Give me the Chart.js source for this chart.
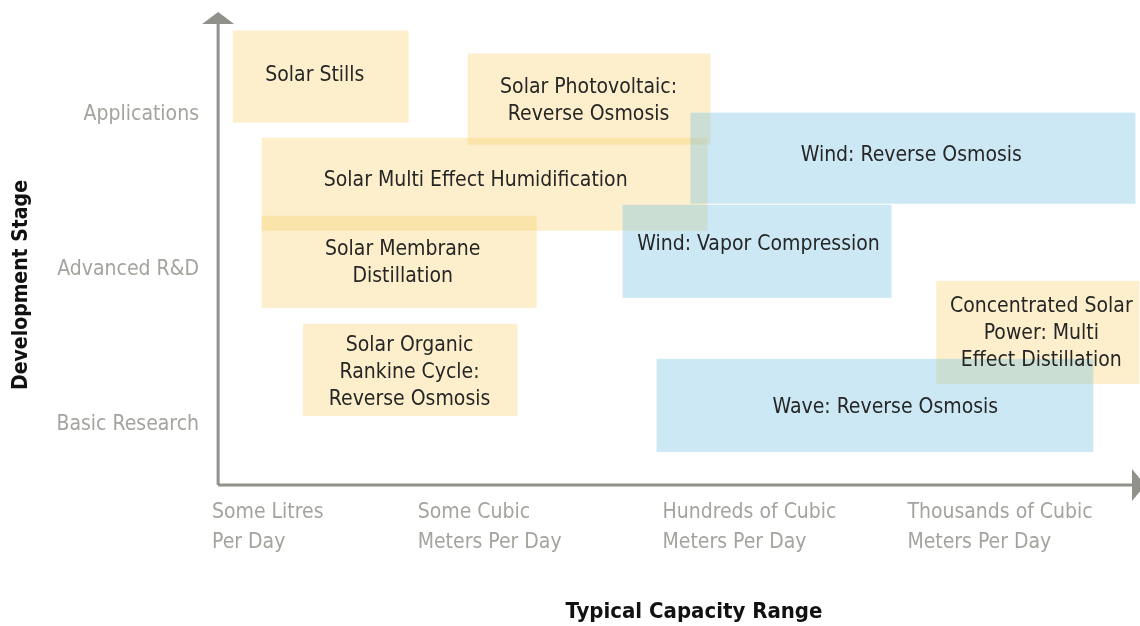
<!DOCTYPE html>
<html>
<head>
<meta charset="utf-8">
<script src="https://cdn.jsdelivr.net/npm/chart.js@4"></script>
<style>
  html, body { margin: 0; padding: 0; background: #fff; }
  #wrap { width: 1140px; height: 626px; }
</style>
</head>
<body>
<div id="wrap"><canvas id="techChart"></canvas></div>
<script>
// axis categories
const stageLabels = ['Basic Research', 'Advanced R&D', 'Applications'];
const stageValues = [1, 2, 3];
const capacityLabels = [
  ['Some Litres', 'Per Day'],
  ['Some Cubic', 'Meters Per Day'],
  ['Hundreds of Cubic', 'Meters Per Day'],
  ['Thousands of Cubic', 'Meters Per Day']
];
const capacityValues = [0.16, 1, 2, 3];
const xTitle = 'Typical Capacity Range';
const yTitle = 'Development Stage';

// technologies (capacity and stage ranges)
const techNames = [
  ['Solar Stills'],
  ['Solar Photovoltaic:', 'Reverse Osmosis'],
  ['Solar Multi Effect Humidification'],
  ['Solar Membrane', 'Distillation'],
  ['Concentrated Solar', 'Power: Multi', 'Effect Distillation'],
  ['Solar Organic', 'Rankine Cycle:', 'Reverse Osmosis'],
  ['Wind: Reverse Osmosis'],
  ['Wind: Vapor Compression'],
  ['Wave: Reverse Osmosis']
];
const techSource = ['solar', 'solar', 'solar', 'solar', 'solar', 'solar', 'wind', 'wind', 'wave'];
const capFrom = [0.245, 1.204, 0.363, 0.363, 3.118, 0.531, 2.114, 1.837, 1.976];
const capTo   = [0.963, 2.196, 2.184, 1.486, 3.947, 1.408, 3.931, 2.935, 3.759];
const stageFrom = [2.948, 2.806, 2.252, 1.755, 1.265, 1.058, 2.426, 1.819, 0.826];
const stageTo   = [3.542, 3.394, 2.852, 2.348, 1.929, 1.652, 3.013, 2.419, 1.426];
// where each name sits inside its box
const labelCap   = [0.580, 1.698, 1.237, 0.939, 3.547, 0.967, 3.016, 2.392, 2.910];
const labelStage = [3.252, 3.087, 2.574, 2.045, 1.587, 1.335, 2.735, 2.161, 1.110];

const FONT = '"Liberation Sans Narrow", "DejaVu Sans Condensed", Roboto, sans-serif';
const axisColor = '#8f918a';
const fills = {
  solar: 'rgba(250, 210, 110, 0.35)',
  wind: 'rgba(120, 195, 225, 0.38)',
  wave: 'rgba(120, 195, 225, 0.38)'
};

const boxPlugin = {
  id: 'techBoxes',
  beforeDatasetsDraw(chart) {
    const ctx = chart.ctx;
    const x = chart.scales.x;
    const y = chart.scales.y;
    ctx.save();
    techNames.forEach((name, i) => {
      const left = x.getPixelForValue(capFrom[i]);
      const right = x.getPixelForValue(capTo[i]);
      const top = y.getPixelForValue(stageTo[i]);
      const bottom = y.getPixelForValue(stageFrom[i]);
      ctx.fillStyle = fills[techSource[i]];
      ctx.fillRect(left, top, right - left, bottom - top);
    });
    ctx.fillStyle = '#262626';
    ctx.font = '21px ' + FONT;
    ctx.textAlign = 'center';
    ctx.textBaseline = 'middle';
    const lh = 27;
    techNames.forEach((name, i) => {
      const cx = x.getPixelForValue(labelCap[i]);
      const cy = y.getPixelForValue(labelStage[i]);
      name.forEach((line, j) => {
        ctx.fillText(line, cx, cy + (j - (name.length - 1) / 2) * lh);
      });
    });
    ctx.restore();
  },
  afterDraw(chart) {
    const ctx = chart.ctx;
    const area = chart.chartArea;
    const ax = chart.scales.x.getPixelForValue(0.185);
    const ay = area.bottom;
    ctx.save();
    ctx.strokeStyle = axisColor;
    ctx.fillStyle = axisColor;
    ctx.lineWidth = 3;
    ctx.beginPath();
    ctx.moveTo(ax, ay);
    ctx.lineTo(ax, 24);
    ctx.moveTo(ax, ay);
    ctx.lineTo(1132, ay);
    ctx.stroke();
    // arrow heads
    ctx.beginPath();
    ctx.moveTo(ax - 16, 24);
    ctx.lineTo(ax + 16, 24);
    ctx.lineTo(ax, 12);
    ctx.closePath();
    ctx.fill();
    ctx.beginPath();
    ctx.moveTo(1132, ay - 16);
    ctx.lineTo(1132, ay + 16);
    ctx.lineTo(1145, ay);
    ctx.closePath();
    ctx.fill();

    // axis titles
    ctx.fillStyle = '#111';
    ctx.textAlign = 'center';
    ctx.textBaseline = 'middle';
    ctx.font = 'bold 22px ' + FONT;
    ctx.fillText(xTitle, 694, 612);
    ctx.translate(22, 285);
    ctx.rotate(-Math.PI / 2);
    ctx.font = 'bold 21px ' + FONT;
    ctx.fillText(yTitle, 0, 0);
    ctx.restore();
  }
};

const ctx = document.getElementById('techChart');

new Chart(ctx, {
  type: 'scatter',
  data: { datasets: [{ data: [] }] },
  options: {
    responsive: true,
    maintainAspectRatio: false,
    animation: false,
    layout: { padding: { top: 1, right: 0, left: 0, bottom: 0 } },
    plugins: { legend: { display: false }, tooltip: { enabled: false } },
    scales: {
      x: {
        type: 'linear',
        min: 0.16,
        max: 3.95,
        grid: { display: false, drawTicks: false },
        border: { display: false },
        afterBuildTicks: (scale) => { scale.ticks = capacityValues.map(v => ({ value: v })); },
        afterFit: (scale) => { scale.height = 141; },
        ticks: {
          align: 'start',
          maxRotation: 0,
          autoSkip: false,
          padding: 13,
          color: '#a3a49d',
          font: { family: FONT, size: 21, lineHeight: 1.43 },
          callback: (value, index) => capacityLabels[index]
        }
      },
      y: {
        type: 'linear',
        min: 0.613,
        max: 3.574,
        grid: { display: false, drawTicks: false },
        border: { display: false },
        afterBuildTicks: (scale) => { scale.ticks = stageValues.map(v => ({ value: v })); },
        afterFit: (scale) => { scale.width = 212; },
        ticks: {
          padding: 13,
          color: '#a3a49d',
          font: { family: FONT, size: 21 },
          callback: (value, index) => stageLabels[index]
        }
      }
    }
  },
  plugins: [boxPlugin]
});
</script>
</body>
</html>
